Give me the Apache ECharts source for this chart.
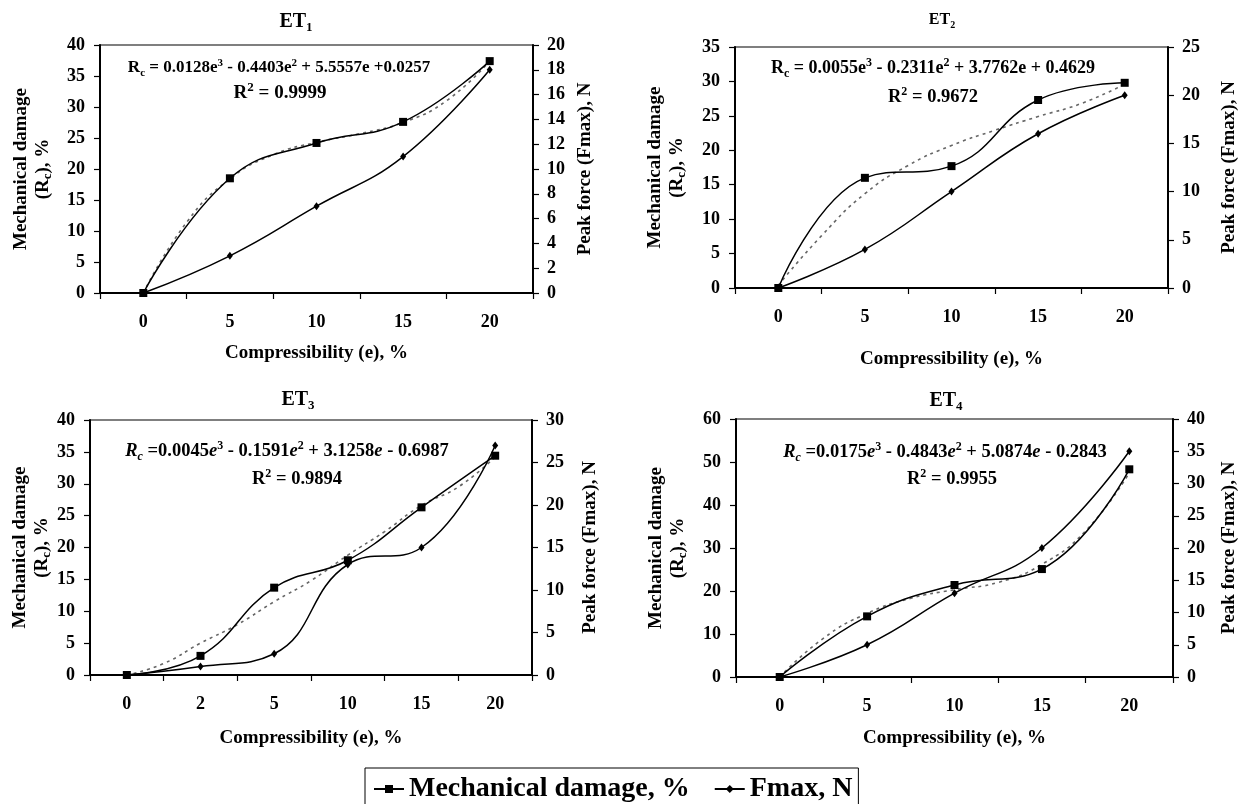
<!DOCTYPE html>
<html>
<head>
<meta charset="utf-8">
<title>Mechanical damage and peak force vs compressibility</title>
<script src="https://cdn.jsdelivr.net/npm/echarts@6/dist/echarts.min.js"></script>
<style>
  html, body { margin: 0; padding: 0; background: #fff; }
  #chart { width: 1241px; height: 804px; }
</style>
</head>
<body>
<div id="chart"></div>
<script>
// 横轴类别（压缩率 e, %）
const catsA = ["0", "5", "10", "15", "20"];
const catsB = ["0", "2", "5", "10", "15", "20"];

// ET1
const damage1 = [0, 18.5, 24.2, 27.6, 37.4];
const fmax1 = [0, 3, 7, 11, 18];
const trend1 = [0, 11.4, 18.4, 22.3, 24.3, 25.7, 27.5, 31.0, 37.4]; // 每半个类别读一个点

// ET2
const damage2 = [0, 16.0, 17.7, 27.3, 29.8];
const fmax2 = [0, 4, 10, 16, 20];
const trend2 = [0.4, 7.6, 13.7, 17.8, 20.7, 22.9, 24.9, 26.8, 29.6];

// ET3
const damage3 = [0, 3.0, 13.7, 18.0, 26.3, 34.4];
const fmax3 = [0, 1.0, 2.5, 13, 15, 27];
const trend3 = [0, 1.8, 5.0, 7.9, 11.5, 14.8, 18.8, 22.5, 26.6, 29.5, 34.2];

// ET4
const damage4 = [0, 14.1, 21.4, 25.1, 48.3];
const fmax4 = [0, 5, 13, 20, 35];
const trend4 = [0, 9.0, 14.8, 18.3, 20.3, 22.0, 26.2, 34.0, 47.5];

// 坐标轴刻度 [min, max, interval]
const leftTicks = [[0, 40, 5], [0, 35, 5], [0, 40, 5], [0, 60, 10]];
const rightTicks = [[0, 20, 2], [0, 25, 5], [0, 30, 5], [0, 40, 5]];

// 文字
const titles = ["ET{s|1}", "ET{s|2}", "ET{s|3}", "ET{s|4}"];
const equations = [
  "R{sub|c} = 0.0128e{sup|3} - 0.4403e{sup|2} + 5.5557e +0.0257",
  "R{sub|c} = 0.0055e{sup|3} - 0.2311e{sup|2} + 3.7762e + 0.4629",
  "{it|R}{itsub|c} =0.0045{it|e}{sup|3} - 0.1591{it|e}{sup|2} + 3.1258{it|e} - 0.6987",
  "{it|R}{itsub|c} =0.0175{it|e}{sup|3} - 0.4843{it|e}{sup|2} + 5.0874{it|e} - 0.2843",
];
const r2Values = ["0.9999", "0.9672", "0.9894", "0.9955"];

(function () {
  const myChart = echarts.init(document.getElementById("chart"));
  const font = "Liberation Serif";
  const black = "#000";

  // 四个小图的位置（网格矩形、标题、公式、轴名距离、公式字号）
  const layout = [
    { box: [100, 45, 433, 248], title: [296, 22, 20], eq: [279, 68, 17], r2: [280, 93, 19], xGap: 49, lGap: 46, rGap: 41 },
    { box: [735, 47, 435, 241], title: [942, 20, 16], eq: [933, 68, 18], r2: [933, 97, 18.5], xGap: 60, lGap: 47, rGap: 50 },
    { box: [90, 420, 442, 255], title: [298, 400, 20], eq: [287, 451, 18.5], r2: [297, 479, 18.5], xGap: 52, lGap: 36, rGap: 47 },
    { box: [736, 419, 442, 258], title: [946, 401, 20], eq: [945, 452, 18.5], r2: [952, 479, 18.5], xGap: 50, lGap: 47, rGap: 45 },
  ];
  const data = [
    { cats: catsA, damage: damage1, fmax: fmax1, trend: trend1 },
    { cats: catsA, damage: damage2, fmax: fmax2, trend: trend2 },
    { cats: catsB, damage: damage3, fmax: fmax3, trend: trend3 },
    { cats: catsA, damage: damage4, fmax: fmax4, trend: trend4 },
  ];

  // 上下标样式（随字号变化）
  function richFor(size) {
    const small = Math.round(size * 0.66);
    const lh = Math.round(size * 1.25);
    return {
      sub: { fontFamily: font, fontWeight: "bold", fontSize: small, lineHeight: Math.round(size * 0.5), verticalAlign: "bottom", color: black },
      sup: { fontFamily: font, fontWeight: "bold", fontSize: small, lineHeight: small, verticalAlign: "top", color: black },
      it: { fontFamily: font, fontWeight: "bold", fontStyle: "italic", fontSize: size, lineHeight: lh, color: black },
      itsub: { fontFamily: font, fontWeight: "bold", fontStyle: "italic", fontSize: small, lineHeight: Math.round(size * 0.5), verticalAlign: "bottom", color: black },
    };
  }
  const nameStyle = {
    fontFamily: font,
    fontWeight: "bold",
    fontSize: 19,
    lineHeight: 22,
    color: black,
    rich: {
      sub: { fontFamily: font, fontWeight: "bold", fontSize: 13, lineHeight: 14, verticalAlign: "bottom", color: black },
    },
  };
  const labelStyle = { fontFamily: font, fontWeight: "bold", fontSize: 18, color: black };

  const grids = [];
  const xAxes = [];
  const yAxes = [];
  const series = [];
  const titleList = [];

  layout.forEach((L, g) => {
    const d = data[g];
    grids.push({
      left: L.box[0],
      top: L.box[1],
      width: L.box[2],
      height: L.box[3],
      show: true,
      borderColor: black,
      borderWidth: 1.2,
    });

    // 类别轴（显示）
    xAxes.push({
      type: "category",
      gridIndex: g,
      data: d.cats,
      boundaryGap: true,
      name: "Compressibility (e), %",
      nameLocation: "middle",
      nameGap: L.xGap,
      nameTextStyle: nameStyle,
      axisLine: { onZero: false, lineStyle: { color: black, width: 2 } },
      axisTick: { show: true, interval: 0, length: 6, lineStyle: { color: black, width: 1.2 } },
      axisLabel: Object.assign({ margin: 20, interval: 0 }, labelStyle),
      splitLine: { show: false },
    });
    // 隐藏的数值轴，给趋势线用（与类别中心对齐）
    xAxes.push({
      type: "value",
      gridIndex: g,
      min: -0.5,
      max: d.cats.length - 0.5,
      show: false,
      axisLine: { onZero: false },
    });

    yAxes.push({
      type: "value",
      gridIndex: g,
      position: "left",
      min: leftTicks[g][0],
      max: leftTicks[g][1],
      interval: leftTicks[g][2],
      name: "Mechanical damage\n(R{sub|c}), %",
      nameLocation: "middle",
      nameRotate: 90,
      nameGap: L.lGap,
      nameTextStyle: nameStyle,
      axisLine: { show: true, onZero: false, lineStyle: { color: black, width: 2 } },
      axisTick: { show: true, length: 6, lineStyle: { color: black, width: 1.2 } },
      axisLabel: Object.assign({ margin: 15 }, labelStyle),
      splitLine: { show: false },
    });
    yAxes.push({
      type: "value",
      gridIndex: g,
      position: "right",
      min: rightTicks[g][0],
      max: rightTicks[g][1],
      interval: rightTicks[g][2],
      name: "Peak force (Fmax), N",
      nameLocation: "middle",
      nameRotate: 90,
      nameGap: L.rGap,
      nameTextStyle: nameStyle,
      axisLine: { show: true, onZero: false, lineStyle: { color: black, width: 2 } },
      axisTick: { show: true, length: 6, lineStyle: { color: black, width: 1.2 } },
      axisLabel: Object.assign({ margin: 14 }, labelStyle),
      splitLine: { show: false },
    });

    // 多项式趋势线（虚线）
    series.push({
      name: "trend",
      type: "line",
      xAxisIndex: 2 * g + 1,
      yAxisIndex: 2 * g,
      data: d.trend.map((v, i) => [i / 2, v]),
      smooth: 0.5,
      symbol: "none",
      silent: true,
      lineStyle: { color: "#666", width: 1.6, type: [3, 4] },
      z: 1,
    });
    series.push({
      name: "Mechanical damage, %",
      type: "line",
      xAxisIndex: 2 * g,
      yAxisIndex: 2 * g,
      data: d.damage,
      smooth: 0.45,
      symbol: "rect",
      symbolSize: 8,
      itemStyle: { color: black },
      lineStyle: { color: black, width: 1.5 },
      z: 3,
    });
    series.push({
      name: "Fmax, N",
      type: "line",
      xAxisIndex: 2 * g,
      yAxisIndex: 2 * g + 1,
      data: d.fmax,
      smooth: 0.45,
      symbol: "diamond",
      symbolSize: [6, 8],
      itemStyle: { color: black },
      lineStyle: { color: black, width: 1.5 },
      z: 3,
    });

    // 标题 ET1..ET4
    titleList.push({
      text: titles[g],
      left: L.title[0],
      top: L.title[1],
      textAlign: "center",
      textVerticalAlign: "middle",
      padding: 0,
      textStyle: {
        fontFamily: font,
        fontWeight: "bold",
        fontSize: L.title[2],
        lineHeight: L.title[2] + 4,
        color: black,
        rich: {
          s: { fontFamily: font, fontWeight: "bold", fontSize: Math.round(L.title[2] * 0.65), lineHeight: 10, verticalAlign: "bottom", color: black },
        },
      },
    });
    // 回归方程与 R²
    titleList.push({
      text: equations[g],
      left: L.eq[0],
      top: L.eq[1],
      textAlign: "center",
      textVerticalAlign: "middle",
      padding: 0,
      textStyle: { fontFamily: font, fontWeight: "bold", fontSize: L.eq[2], lineHeight: Math.round(L.eq[2] * 1.25), color: black, rich: richFor(L.eq[2]) },
    });
    titleList.push({
      text: "R{sup|2} = " + r2Values[g],
      left: L.r2[0],
      top: L.r2[1],
      textAlign: "center",
      textVerticalAlign: "middle",
      padding: 0,
      textStyle: { fontFamily: font, fontWeight: "bold", fontSize: L.r2[2], lineHeight: Math.round(L.r2[2] * 1.25), color: black, rich: richFor(L.r2[2]) },
    });
  });

  const option = {
    animation: false,
    backgroundColor: "#fff",
    title: titleList,
    legend: {
      data: ["Mechanical damage, %", "Fmax, N"],
      left: 365,
      top: 768,
      orient: "horizontal",
      itemWidth: 30,
      itemHeight: 10,
      itemGap: 24,
      borderColor: black,
      borderWidth: 1,
      padding: [7, 6, 12, 8],
      selectedMode: false,
      textStyle: { fontFamily: font, fontWeight: "bold", fontSize: 28, color: black },
    },
    grid: grids,
    xAxis: xAxes,
    yAxis: yAxes,
    series: series,
  };

  myChart.setOption(option);
  window.addEventListener("resize", function () {
    myChart.resize();
  });
})();
</script>
</body>
</html>
